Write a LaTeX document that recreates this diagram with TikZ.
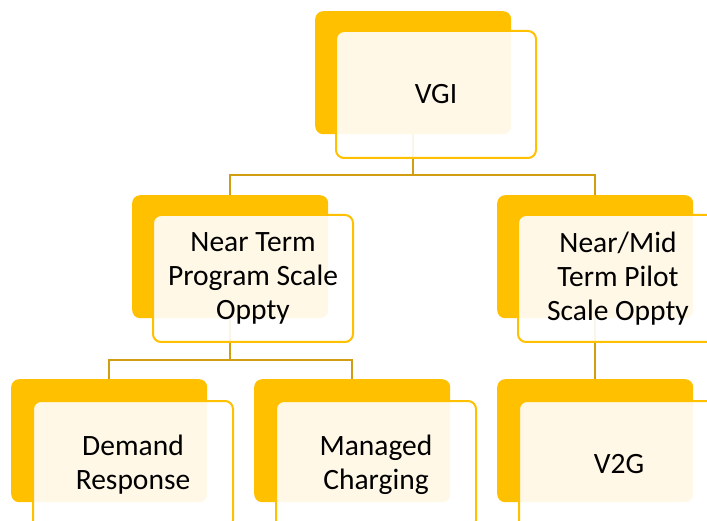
\documentclass[tikz,border=0pt]{standalone}
\usepackage{fontspec}
\setmainfont{Carlito}
\definecolor{gold}{RGB}{255,192,0}
\definecolor{conn}{RGB}{208,158,16}
\begin{document}
\begin{tikzpicture}[x=1pt,y=-1pt,
  back/.style={fill=gold, rounded corners=8pt, minimum width=196pt, minimum height=123pt, inner sep=0pt, anchor=north west},
  front/.style={fill=white, fill opacity=0.9, text opacity=1, draw=gold, draw opacity=1, line width=2pt, rounded corners=8pt, minimum width=200pt, minimum height=127pt, inner sep=0pt, anchor=north west, align=center, font=\fontsize{29.5}{34}\selectfont},
  link/.style={draw=conn, line width=2pt}]
\useasboundingbox (0,0) rectangle (707,521);
\clip (0,0) rectangle (707,521);
% back plates
\node[back] (vgi) at (315,11) {};
\node[back] (nt) at (132,195) {};
\node[back] (nm) at (497,195) {};
\node[back] (dr) at (11,379) {};
\node[back] (mc) at (254,379) {};
\node[back] (v2g) at (497,379) {};
% connectors
\coordinate (h1) at (0,175);
\coordinate (h2) at (0,360);
\draw[link] (vgi.south) -- (vgi.south |- h1) -| (nt.north);
\draw[link] (vgi.south |- h1) -| (nm.north);
\draw[link] (nt.south) -- (nt.south |- h2) -| (dr.north);
\draw[link] (nt.south |- h2) -| (mc.north);
\draw[link] (nm.south) -- (v2g.north);
% front boxes
\node[front] (fvgi) at (335,30) {VGI};
\node[front] (fnt) at (152,214) {Near Term\\Program Scale\\Oppty};
\node[front] (fnm) at (517,214) {Near/Mid\\Term Pilot\\Scale Oppty};
\node[front] (fdr) at (32,400) {Demand\\Response};
\node[front] (fmc) at (275,400) {Managed\\Charging};
\node[front] (fv2g) at (518,400) {V2G};
\end{tikzpicture}
\end{document}
